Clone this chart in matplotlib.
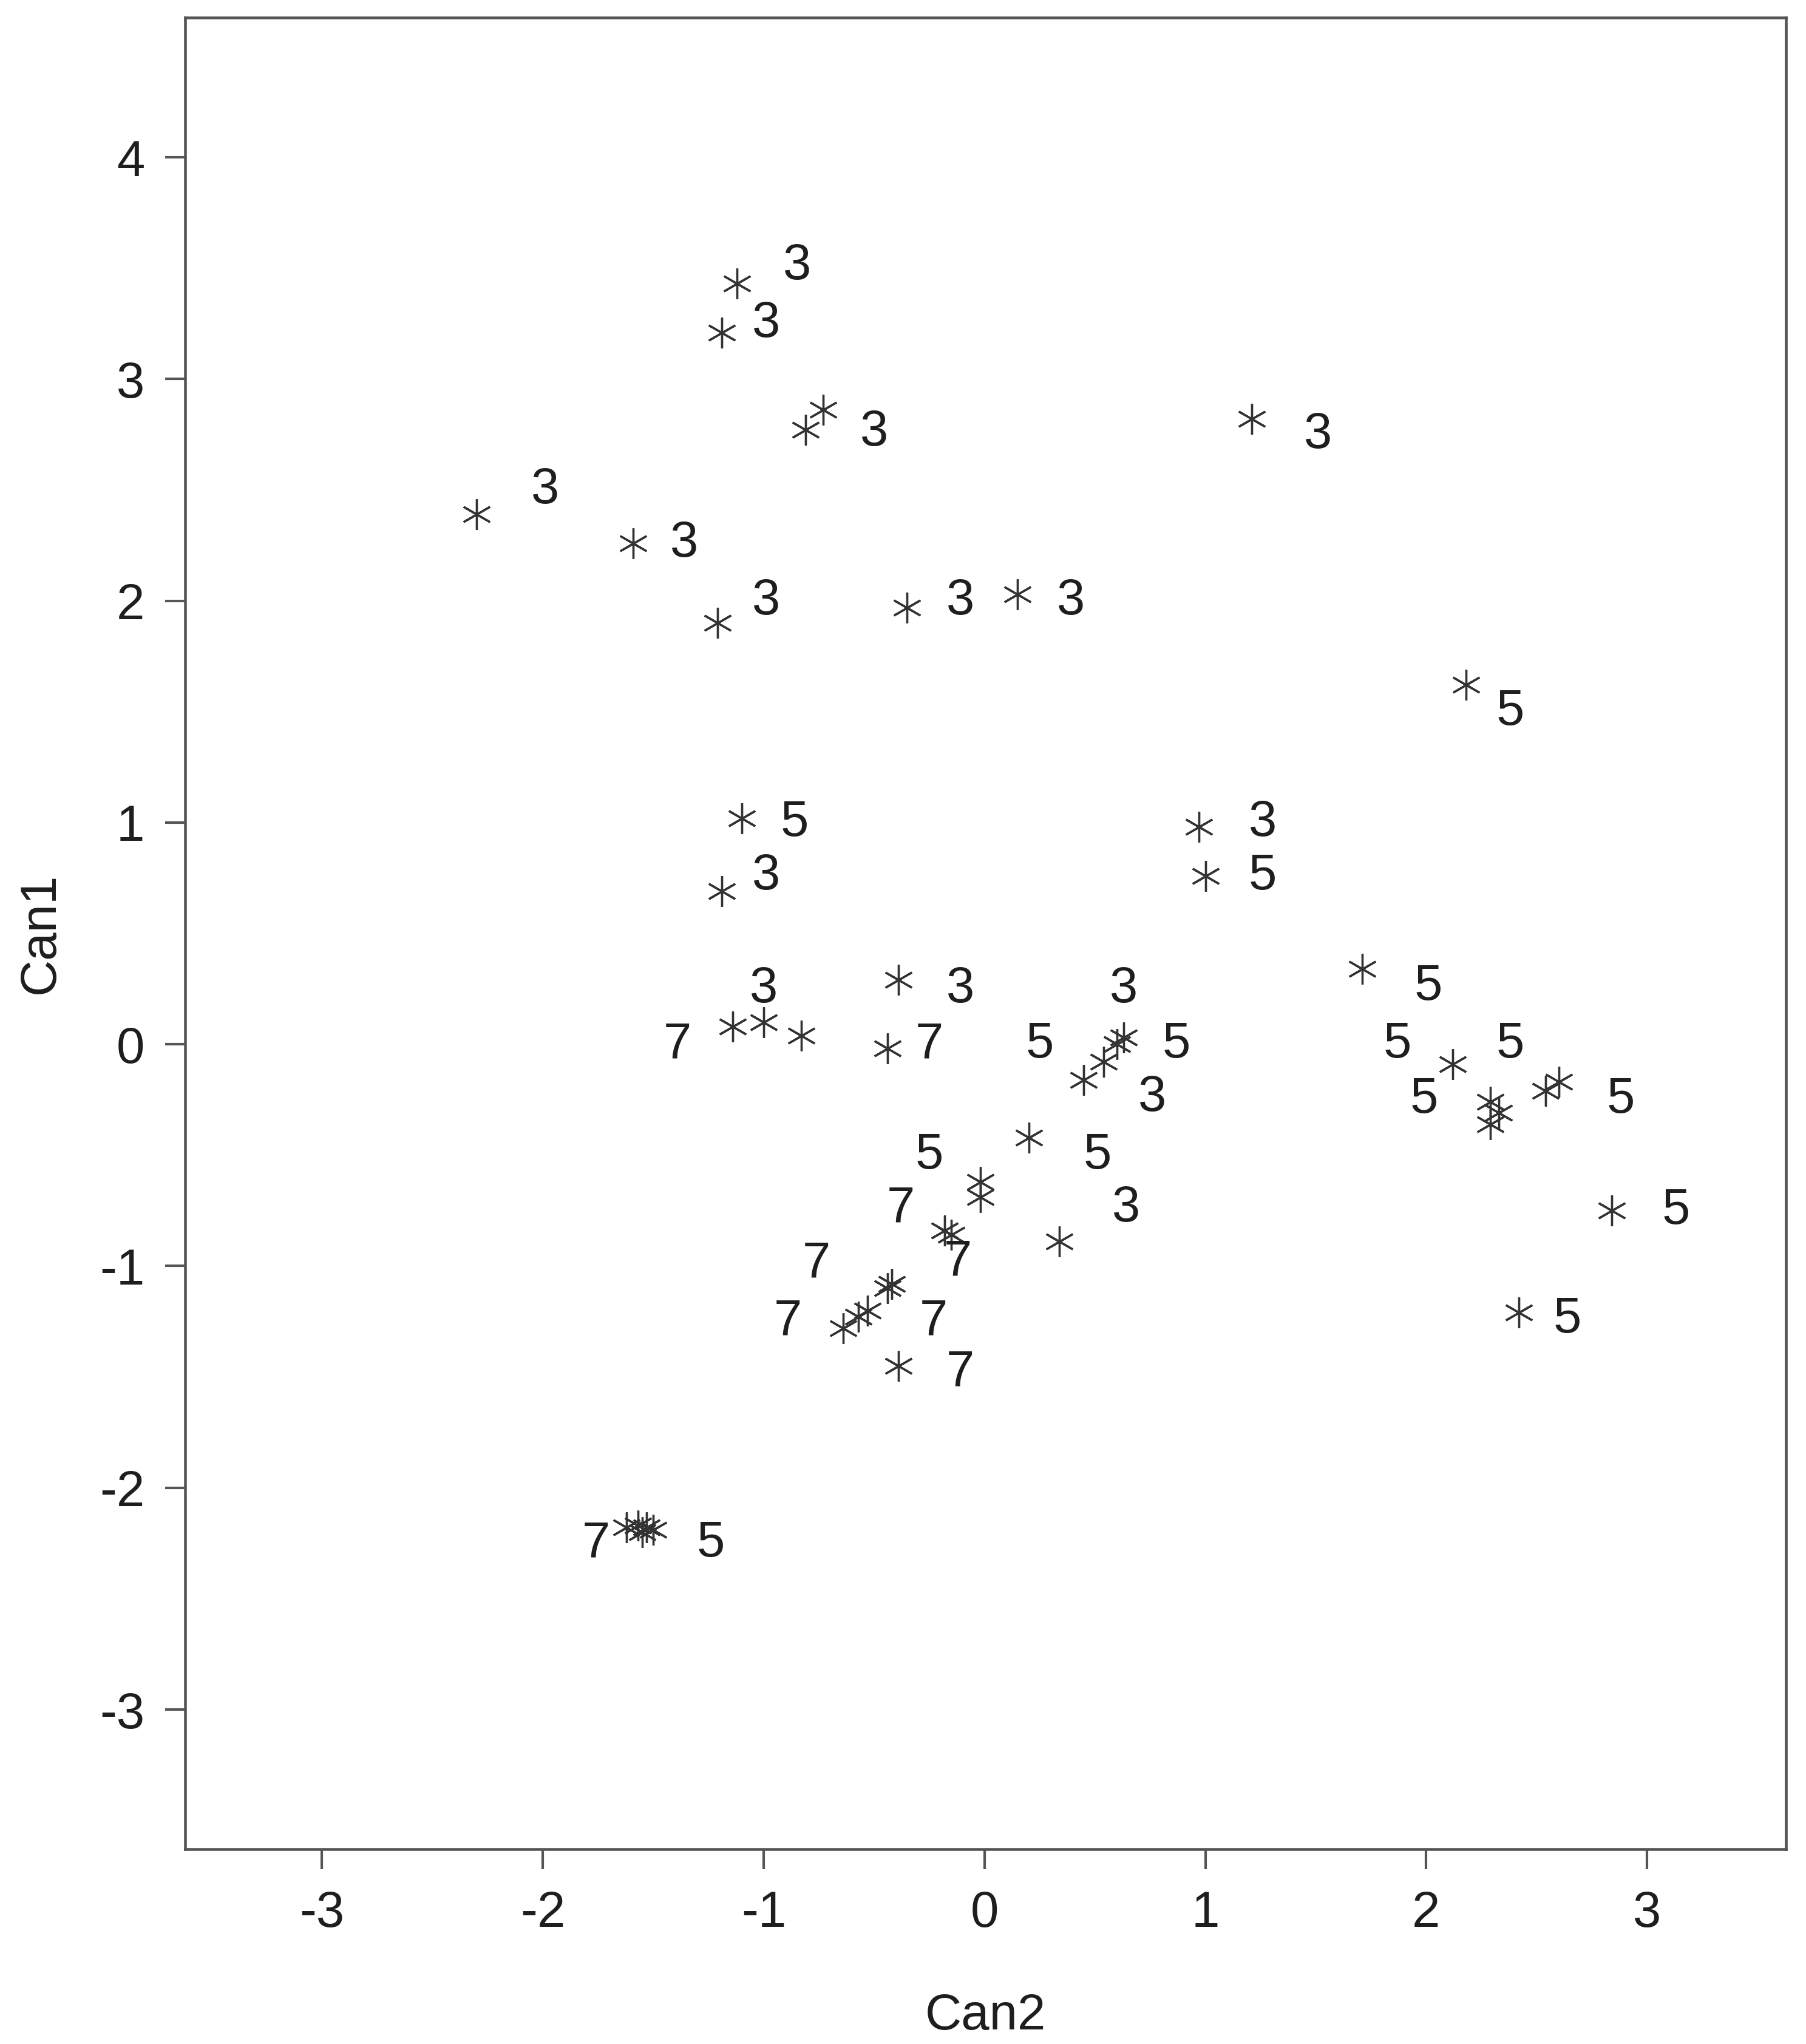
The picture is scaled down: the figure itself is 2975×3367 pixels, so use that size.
import matplotlib.pyplot as plt

# canonical scores (Can2 on x, Can1 on y)
can2 = [-1.12, -1.19, -0.81, -0.73, -2.30, -1.59, -1.21, -0.35, 0.15, 1.21,
        2.18, -1.10, 0.97, 1.00, -1.19,
        1.71, -0.39,
        -1.14, -1.00, -0.83, -0.44,
        0.45, 0.54, 0.60, 0.63,
        2.12, 2.29, 2.33, 2.29, 2.54, 2.60,
        0.20, -0.02, -0.02,
        0.34, -0.18, -0.15,
        -0.42, -0.44, -0.53, -0.57, -0.64,
        -0.39,
        2.84, 2.42,
        -1.62, -1.57, -1.53, -1.50, -1.55]
can1 = [3.43, 3.21, 2.77, 2.86, 2.39, 2.26, 1.90, 1.97, 2.03, 2.82,
        1.62, 1.02, 0.98, 0.76, 0.69,
        0.34, 0.29,
        0.08, 0.10, 0.04, -0.02,
        -0.16, -0.08, 0.00, 0.03,
        -0.09, -0.26, -0.31, -0.36, -0.21, -0.17,
        -0.42, -0.62, -0.69,
        -0.89, -0.84, -0.86,
        -1.08, -1.10, -1.20, -1.23, -1.28,
        -1.45,
        -0.75, -1.21,
        -2.18, -2.17, -2.18, -2.19, -2.20]

# group labels as printed beside the points
lab_x = [-0.85, -0.99, -0.50, -1.99, -1.36, -0.99, -0.11, 0.39, 1.51, 1.26,
         -0.99, -1.00, -0.11, 0.63, 0.76, 0.64,
         2.38, -0.86, 1.26, 2.01, 1.87, 2.38, 1.99, 2.88, 3.13, 2.64,
         0.25, 0.87, -0.25, 0.51, -1.24,
         -1.39, -0.25, -0.38, -0.12, -0.76, -0.89, -0.23, -0.11, -1.76]
lab_y = [3.51, 3.25, 2.76, 2.50, 2.26, 2.00, 2.00, 2.00, 2.75, 1.00,
         0.76, 0.25, 0.25, 0.25, -0.24, -0.74,
         1.50, 1.00, 0.76, 0.26, 0.00, 0.00, -0.25, -0.25, -0.75, -1.24,
         0.00, 0.00, -0.50, -0.50, -2.25,
         0.00, 0.00, -0.74, -0.98, -0.99, -1.25, -1.25, -1.48, -2.25]
lab_txt = ['3'] * 16 + ['5'] * 15 + ['7'] * 9

plt.rcParams['font.family'] = ['Liberation Sans', 'DejaVu Sans']
plt.rcParams['axes.unicode_minus'] = False

fig = plt.figure(figsize=(2975 / 300, 3367 / 300), dpi=300)
ax = fig.add_axes([0.1025, 0.0953, 0.8865, 0.8961])

ax.plot(can2, can1, linestyle='none', marker=(6, 2, 0), markersize=12,
        markeredgecolor='#333333', markeredgewidth=0.8)

for x, y, t in zip(lab_x, lab_y, lab_txt):
    ax.text(x, y, t, fontsize=20, color='#1e1e1e', ha='center', va='center')

ax.set_xlim(-3.62, 3.63)
ax.set_ylim(-3.63, 4.63)
ax.set_xticks([-3, -2, -1, 0, 1, 2, 3])
ax.set_yticks([-3, -2, -1, 0, 1, 2, 3, 4])
ax.tick_params(direction='out', length=8, width=1, colors='#555555',
               labelcolor='#1e1e1e', labelsize=20, pad=8)

for s in ax.spines.values():
    s.set_color('#555555')
    s.set_linewidth(1.1)

ax.set_xlabel('Can2', fontsize=20, color='#1e1e1e', labelpad=22)
ax.set_ylabel('Can1', fontsize=20, color='#1e1e1e', labelpad=14)

fig.savefig('out.png', dpi=300)
